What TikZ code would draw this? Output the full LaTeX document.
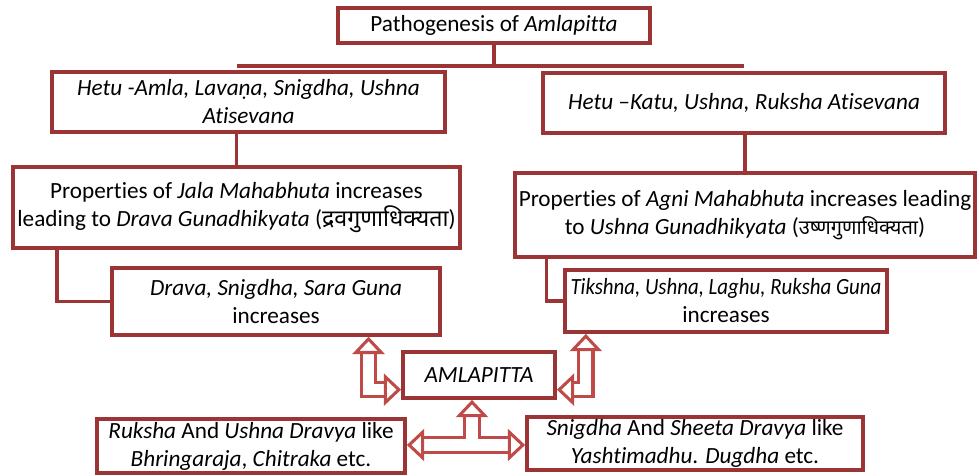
\documentclass[tikz,border=0pt]{standalone}
\usepackage{fontspec}
\setmainfont[Ligatures=NoCommon]{Carlito}
\newfontfamily\devafont[Script=Devanagari]{Noto Sans}
\usepackage{xcolor}
\usepackage{tikz}
\usetikzlibrary{arrows.meta,positioning,calc}
\definecolor{boxred}{RGB}{155,52,52}
\definecolor{arrowred}{RGB}{190,75,72}
\tikzset{
  flowbox/.style={draw=boxred,line width=2.8pt,fill=white,align=center,inner sep=2pt,
    font=\fontsize{17.4}{21}\selectfont},
  linkline/.style={draw=boxred,line width=2.8pt},
  hollowline/.style={draw=arrowred,line width=2.3pt,double=white,double distance=8.5pt},
  hollowboth/.style={hollowline,{Triangle[open,length=13pt,width=24pt]}-{Triangle[open,length=13pt,width=24pt]}},
  hollowend/.style={hollowline,-{Triangle[open,length=13pt,width=24pt]}}
}

\begin{document}
\begin{tikzpicture}[x=0.75pt,y=-0.75pt]
  \useasboundingbox (0,0) rectangle (977,475);

  \node[flowbox,minimum width=234pt,minimum height=26pt] (title) at (494,25.5)
    {Pathogenesis of \textit{Amlapitta}};
  \node[flowbox,minimum width=295pt,minimum height=45pt] (hetuL) at (248.5,102)
    {\textit{Hetu -Amla, Lavaṇa, Snigdha, Ushna}\\\textit{Atisevana}};
  \node[flowbox,minimum width=301.5pt,minimum height=45pt] (hetuR) at (744,103)
    {\textit{Hetu –Katu, Ushna, Ruksha Atisevana}};
  \node[flowbox,minimum width=335pt,minimum height=61pt] (propL) at (236.5,207.5)
    {Properties of \textit{Jala Mahabhuta} increases\\leading to \textit{Drava Gunadhikyata} ({\devafont द्रवगुणाधिक्यता})};
  \node[flowbox,minimum width=345pt,minimum height=63pt] (propR) at (745,215)
    {Properties of \textit{Agni Mahabhuta} increases leading\\to \textit{Ushna Gunadhikyata} ({\devafont\fontsize{15}{21}\selectfont उष्णगुणाधिक्यता})};
  \node[flowbox,minimum width=246pt,minimum height=50pt] (gunaL) at (276,301.5)
    {\textit{Drava, Snigdha, Sara Guna}\\increases};
  \node[flowbox,inner xsep=0pt,minimum width=241.5pt,minimum height=46.5pt] (gunaR) at (726,301)
    {\scalebox{0.9}[1]{\textit{Tikshna, Ushna, Laghu, Ruksha Guna}}\\increases};
  \node[flowbox,minimum width=114pt,minimum height=34.5pt] (aml) at (479,375)
    {\textit{AMLAPITTA}};
  \node[flowbox,minimum width=231pt,minimum height=39pt] (dravyaL) at (251,446)
    {\textit{Ruksha} And \textit{Ushna Dravya} like\\\textit{Bhringaraja}, \textit{Chitraka} etc.};
  \node[flowbox,minimum width=252pt,minimum height=40pt] (dravyaR) at (695,443.5)
    {\textit{Snigdha} And \textit{Sheeta Dravya} like\\\textit{Yashtimadhu}. \textit{Dugdha} etc.};

  % tree links
  \coordinate (split) at (494,66);
  \draw[linkline] (title.south) -- (split);
  \draw[linkline] (split -| propL.north) -- (split -| hetuR.north);
  \draw[linkline] (hetuL.south -| propL.north) -- (propL.north);
  \draw[linkline] (hetuR.south -| propR.north) -- (propR.north);
  \draw[linkline] ([xshift=34pt]propL.south west) |- (gunaL.west);
  \draw[linkline] ([xshift=25pt]propR.south west) |- (gunaR.west);

  % hollow arrows round AMLAPITTA
  \draw[hollowboth] ([xshift=-55pt]gunaL.south east) |- ([yshift=-11pt]aml.west);
  \draw[hollowboth] ([xshift=17pt]gunaR.south west) |- ([yshift=-11pt]aml.east);
  \coordinate (fork) at (472,445);
  \draw[hollowboth] (dravyaL.east |- fork) -- (dravyaR.west |- fork);
  \draw[hollowend] ([yshift=4.25pt]fork) -- (fork |- aml.south);
\end{tikzpicture}
\end{document}
